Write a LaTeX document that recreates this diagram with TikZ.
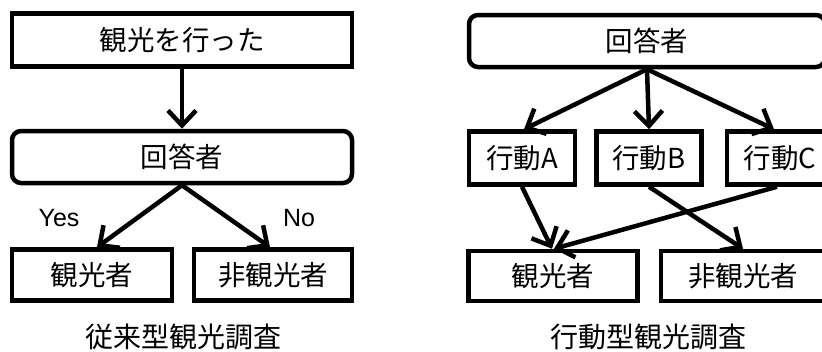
\documentclass[tikz,border=0pt]{standalone}
\usepackage{fontspec}
\setmainfont{Noto Sans CJK JP}
\newfontfamily\latinsans{Liberation Sans}
\usetikzlibrary{arrows.meta}
\tikzset{
  box/.style={draw, line width=4.5pt, rectangle, inner sep=0pt, font=\fontsize{27.5}{30}\selectfont},
  rbox/.style={box, rounded corners=9pt},
  arr/.style={line width=4.5pt, -{Straight Barb[length=15pt,width=28pt]}},
  lbl/.style={font=\latinsans\fontsize{25}{28}\selectfont, inner sep=0pt},
  captiontext/.style={font=\fontsize{28}{30}\selectfont, inner sep=0pt}
}
\begin{document}
\begin{tikzpicture}[x=1pt,y=-1pt]
\clip (0,0) rectangle (822,351);
\fill[white] (0,0) rectangle (822,351);
% left diagram
\node[box, minimum width=340pt, minimum height=53pt] (go) at (182,40) {観光を行った};
\node[rbox, minimum width=340pt, minimum height=52pt] (resp) at (182,157) {回答者};
\node[box, minimum width=160pt, minimum height=51pt] (tour) at (92,275) {観光者};
\node[box, minimum width=158pt, minimum height=51pt] (ntour) at (273,275) {非観光者};
\node[lbl] (yes) at (59,218) {Yes};
\node[lbl] (no) at (299,218) {No};
\node[captiontext] (capl) at (183,337) {従来型観光調査};
\draw[arr] (go.south) -- (resp.north);
\draw[arr] (resp.south) -- ([xshift=5pt]tour.north);
\draw[arr] (resp.south) -- ([xshift=-3pt]ntour.north);
% right diagram
\node[rbox, minimum width=356pt, minimum height=52pt] (resp2) at (647,41) {回答者};
\node[box, minimum width=106pt, minimum height=53pt] (actA) at (522,158) {行動A};
\node[box, minimum width=105pt, minimum height=53pt] (actB) at (649,158) {行動B};
\node[box, minimum width=106pt, minimum height=53pt] (actC) at (780,158) {行動C};
\node[box, minimum width=169pt, minimum height=50pt] (tour2) at (553,276) {観光者};
\node[box, minimum width=164pt, minimum height=50pt] (ntour2) at (743,276) {非観光者};
\node[captiontext] (capr) at (648,337) {行動型観光調査};
\draw[arr] (resp2.south) -- ([xshift=2pt]actA.north);
\draw[arr] (resp2.south) -- (actB.north);
\draw[arr] (resp2.south) -- ([xshift=-6pt]actC.north);
\draw[arr] (actA.south) -- ([xshift=-1pt]tour2.north);
\draw[arr] (actB.south) -- (ntour2.north);
\draw[arr] ([xshift=-3pt]actC.south) -- ([xshift=1pt]tour2.north);
\end{tikzpicture}
\end{document}
